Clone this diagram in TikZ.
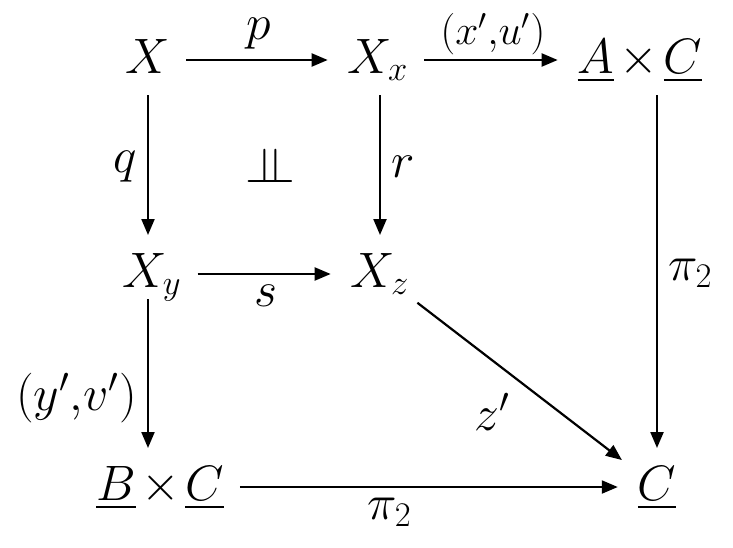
\documentclass[tikz,border=0pt]{standalone}
\usepackage{amsmath,amssymb}
\usepackage{tikz}
\usetikzlibrary{arrows.meta,calc}

\tikzset{
	obj/.style={inner sep=0pt, outer sep=0pt, anchor=base, text height=16pt, text depth=3pt},
	map/.style={-{Triangle[length=8pt,width=6.5pt]}, line width=1.1pt, shorten <=8pt, shorten >=10pt},
	lab/.style={inner sep=5pt}
}

\begin{document}
\begin{tikzpicture}[x=0.5pt, y=-0.5pt, font=\fontsize{24}{29}\selectfont]
		\useasboundingbox (0,0) rectangle (733,547);

		% objects
		\node[obj] (X) at (148,73) {$X$};
		\node[obj] (Xx) at (378,73) {$X_x$};
		\node[obj] (AC) at (640,73) {$\underline{A}\mkern2mu{\times}\mkern2mu\underline{C}$};
		\node[obj] (Xy) at (152,287) {$X_y$};
		\node[obj] (Xz) at (380,287) {$X_z$};
		\node[obj] (BC) at (160,500) {$\underline{B}\mkern2mu{\times}\mkern2mu\underline{C}$};
		\node[obj] (C) at (657,500) {$\underline{C}$};

		% top row
		\draw[map] (X) -- node[above, lab] {$p$} (Xx);
		\draw[map] (Xx) -- node[above, inner sep=2pt, font=\fontsize{21}{25}\selectfont] {$(x'{,}u')$} (AC);

		% verticals
		\draw[map] (X) -- node[left, lab] {$q$} (Xy.north -| X);
		\draw[map] (Xx.south -| Xz.north) -- node[right, lab] {$r$} (Xz.north);
		\draw[map] (AC.south -| C.north) -- node[right, lab] {$\pi_2$} (C.north);
		\draw[map, shorten <=3pt] (Xy.south -| X) -- node[left, lab, pos=0.6] {$(y'{,}v')$} (BC.north -| X);

		\node (indep) at (270,165) {$\perp\mkern-10mu\perp$};

		% middle and bottom
		\draw[map] (Xy) -- node[below, lab] {$s$} (Xz);
		\draw[map] (Xz) -- node[below left, lab, pos=0.5] {$z'$} (C);
		\draw[map] (BC) -- node[below, lab, pos=0.4] {$\pi_2$} (C);
	\end{tikzpicture}
\end{document}
